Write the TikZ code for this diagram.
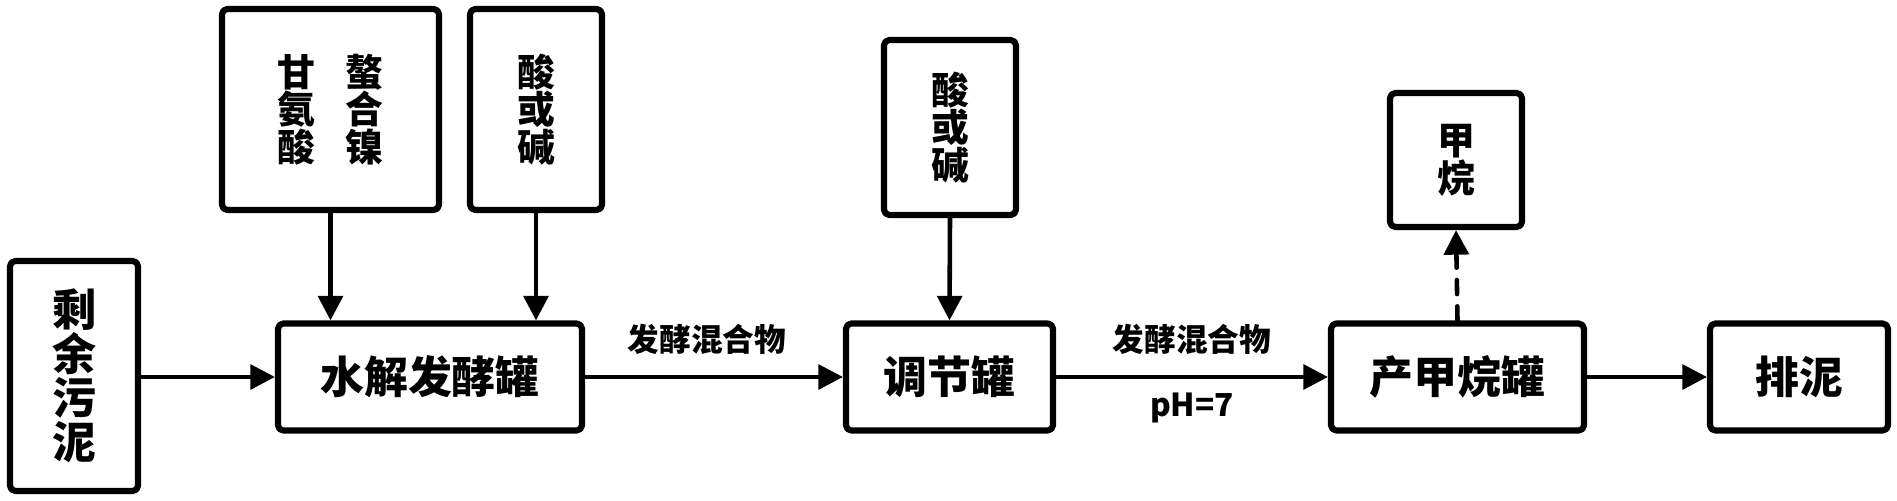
\documentclass[tikz,border=0pt]{standalone}
\usepackage{fontspec}
\setmainfont{Noto Sans CJK SC}
\usetikzlibrary{arrows.meta}

\begin{document}
\begin{tikzpicture}[line cap=round, line join=round,
  tank/.style={draw, line width=3.5pt, rounded corners=3pt, inner sep=0pt, align=center,
    minimum height=2.14cm, font=\bfseries\fontsize{25}{25}\selectfont},
  feed/.style={tank, font=\bfseries\fontsize{21.5}{21.5}\selectfont},
  flow/.style={line width=2.6pt, -{Triangle[length=14pt,width=14pt]}},
  lbl/.style={font=\bfseries\fontsize{18}{18}\selectfont}]
  \useasboundingbox (0,0) rectangle (37.94,10.02);
  % Main line of tanks
  \node[tank, minimum width=2.56cm, minimum height=4.60cm] (sludge) at (1.48,2.50) {剩\\余\\污\\泥};
  \node[tank, minimum width=6.08cm] (hydro) at (8.60,2.48) {水解发酵罐};
  \node[tank, minimum width=4.14cm] (regulate) at (18.99,2.48) {调节罐};
  \node[tank, minimum width=5.06cm] (methano) at (29.15,2.48) {产甲烷罐};
  \node[tank, minimum width=3.56cm] (discharge) at (35.98,2.48) {排泥};
  % Feeds and product
  \node[feed, minimum width=4.34cm, minimum height=4.02cm] (glycine) at (6.61,7.83)
    {甘\hspace{0.8em}螯\\氨\hspace{0.8em}合\\酸\hspace{0.8em}镍};
  \node[feed, minimum width=2.64cm, minimum height=4.02cm] (acidA) at (10.72,7.83) {酸\\或\\碱};
  \node[feed, minimum width=2.64cm, minimum height=3.50cm] (acidB) at (19.00,7.47) {酸\\或\\碱};
  \node[feed, minimum width=2.64cm, minimum height=2.68cm] (methane) at (29.12,6.82) {甲\\烷};

  \draw[flow] (sludge.east |- hydro.west) -- (hydro.west);
  \draw[flow] (glycine.south) -- (glycine.south |- hydro.north);
  \draw[flow] (acidA.south) -- (acidA.south |- hydro.north);
  \draw[flow] (hydro.east) -- node[lbl, xshift=-0.14cm, yshift=0.76cm] {发酵混合物} (regulate.west);
  \draw[flow] (acidB.south) -- (regulate.north);
  \draw[flow] (regulate.east) -- node[lbl, yshift=0.76cm] {发酵混合物}
    node[lbl, yshift=-0.62cm] {pH=7} (methano.west);
  \draw[flow, dash pattern=on 8pt off 7pt] (methano.north) -- (methane.south);
  \draw[flow] (methano.east) -- (discharge.west);
\end{tikzpicture}
\end{document}
